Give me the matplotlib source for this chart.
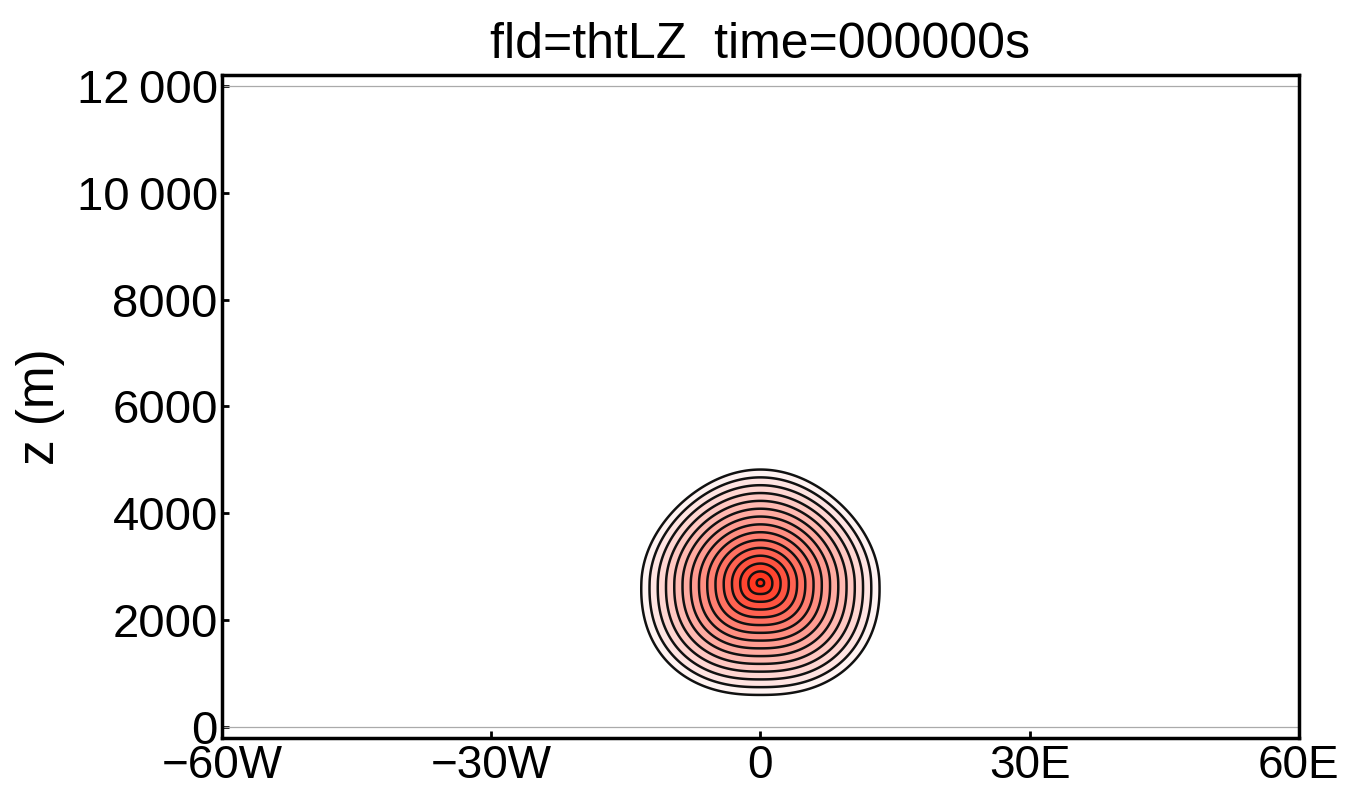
import numpy as np
import matplotlib
matplotlib.use("Agg")
import matplotlib.pyplot as plt
from matplotlib.colors import to_rgb

plt.rcParams['font.family'] = ['Liberation Sans', 'DejaVu Sans']

# ---- data ----
title = "fld=thtLZ  time=000000s"
ylabel = "z (m)"
x_ticks = [-60, -30, 0, 30, 60]
x_ticklabels = ["\u221260W", "\u221230W", "0", "30E", "60E"]
y_ticks = [0, 2000, 4000, 6000, 8000, 10000, 12000]
y_ticklabels = ["0", "2000", "4000", "6000", "8000", "10\u2009000", "12\u2009000"]
xlim = (-60, 60)
ylim = (-206, 12206)

# warm bubble (potential temperature perturbation) description
bubble_xc = 0.0        # km
bubble_zc = 2700.0     # m
bubble_xr = 13.8       # km, horizontal radius
bubble_zr_top = 2200.0 # m, radius above centre
bubble_zr_bot = 2180.0 # m, radius below centre
bubble_amp = 1.0
n_levels = 15
color_low = "#fff3f2"
color_high = "#ff2810"

# ---- field ----
x = np.linspace(-60, 60, 1201)
z = np.linspace(-206, 12206, 1501)
X, Z = np.meshgrid(x, z)
dz = Z - bubble_zc
zr = np.where(dz > 0, bubble_zr_top, bubble_zr_bot)
nz = dz / zr
xr = bubble_xr * (1 - 0.10 * np.clip(nz + 0.15, 0, None) ** 2
                  - 0.05 * np.clip(-nz - 0.15, 0, None) ** 2)
nx = (X - bubble_xc) / xr
p = np.where(dz > 0, 2.0, 2.4)
r = (np.abs(nx) ** p + np.abs(nz) ** p) ** (1.0 / p)
field = bubble_amp * np.clip(1 - r, 0, None)

levels = np.linspace(0, bubble_amp, n_levels + 1)[1:] - 0.03
fill_levels = np.concatenate([[-0.01], levels, [bubble_amp + 0.01]])
c0 = np.array(to_rgb(color_low))
c1 = np.array(to_rgb(color_high))
band_colors = ["white"] + [tuple(c0 + (c1 - c0) * t) for t in np.linspace(0, 1, n_levels)]

fig = plt.figure(figsize=(13.45, 7.87), dpi=100)
ax = fig.add_axes([0.165, 0.0623, 0.8007, 0.8424])

ax.contourf(X, Z, field, levels=fill_levels, colors=band_colors)
ax.contour(X, Z, field, levels=levels, colors="#111111", linewidths=1.8)

ax.axhline(0, color="#aaaaaa", lw=0.9)
ax.axhline(12000, color="#aaaaaa", lw=0.9)

ax.set_xlim(*xlim)
ax.set_ylim(*ylim)
ax.set_xticks(x_ticks)
ax.set_xticklabels(x_ticklabels)
ax.set_yticks(y_ticks)
ax.set_yticklabels(y_ticklabels)
ax.tick_params(direction="in", length=5, width=2)
ax.tick_params(axis="y", pad=3, labelsize=34)
ax.tick_params(axis="x", pad=4, labelsize=33)
for s in ax.spines.values():
    s.set_linewidth(2.5)

ax.set_ylabel(ylabel, fontsize=37, labelpad=8)
ax.set_title(title, fontsize=36, pad=12)

fig.savefig("out.png", dpi=100)
